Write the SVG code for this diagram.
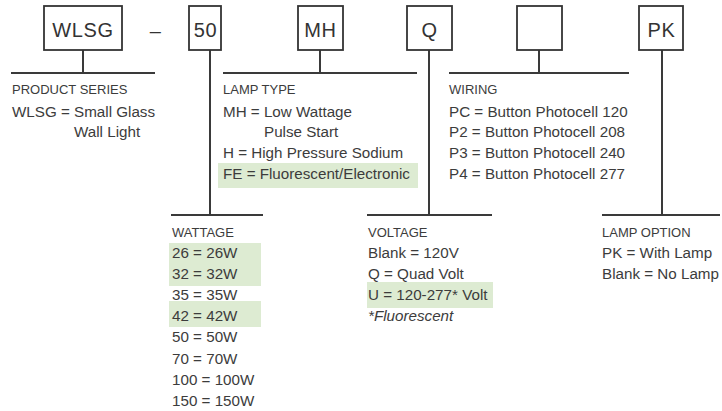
<svg xmlns="http://www.w3.org/2000/svg" width="722" height="411" viewBox="0 0 722 411">
<style>
.box{fill:#fff;stroke:#333;stroke-width:1.8}
.ln{stroke:#3a3a3a;stroke-width:2;fill:none}
.hl{fill:#ddebd2}
.bt{font-family:"Liberation Sans",Arial,sans-serif;font-size:20px;fill:#333;text-anchor:middle;letter-spacing:0.6px}
.hd{font-family:"Liberation Sans",Arial,sans-serif;font-size:13px;fill:#3c3c3c}
.tx{font-family:"Liberation Sans",Arial,sans-serif;font-size:15.2px;fill:#3c3c3c}
.it{font-style:italic}
</style>
<rect width="722" height="411" fill="#fff"/>
<g id="highlights">
<rect class="hl" x="218" y="163" width="200" height="25"/>
<rect class="hl" x="169" y="243" width="92" height="43"/>
<rect class="hl" x="169" y="301" width="92" height="26"/>
<rect class="hl" x="367" y="282" width="126" height="26"/>
</g>
<g id="connectors">
<path class="ln" d="M83 50V73M11 73H155"/>
<path class="ln" d="M210 50V215M171 215H263"/>
<path class="ln" d="M320 50V73M223 73H417"/>
<path class="ln" d="M429 50V215M367 215H492"/>
<path class="ln" d="M539 50V73M449 73H629"/>
<path class="ln" d="M662 50V215M602 215H720"/>
</g>
<g id="box-wlsg"><rect class="box" x="44" y="6" width="78" height="44"/><text class="bt" x="83" y="36.5">WLSG</text></g>
<g id="dash"><text class="bt" x="155.5" y="37.5">–</text></g>
<g id="box-50"><rect class="box" x="189" y="6" width="32" height="44"/><text class="bt" x="205.5" y="36.5">50</text></g>
<g id="box-mh"><rect class="box" x="298" y="6" width="45" height="44"/><text class="bt" x="320.5" y="36.5">MH</text></g>
<g id="box-q"><rect class="box" x="407" y="6" width="45" height="44"/><text class="bt" x="429.5" y="36.5">Q</text></g>
<g id="box-blank"><rect class="box" x="517" y="6" width="45" height="44"/></g>
<g id="box-pk"><rect class="box" x="639" y="6" width="44" height="44"/><text class="bt" x="661.5" y="36.5">PK</text></g>
<g id="product-series">
<text class="hd" x="12" y="94">PRODUCT SERIES</text>
<text class="tx" x="12" y="116.5">WLSG = Small Glass</text>
<text class="tx" x="74" y="137.3">Wall Light</text>
</g>
<g id="lamp-type">
<text class="hd" x="223" y="94">LAMP TYPE</text>
<text class="tx" x="223" y="116.5">MH = Low Wattage</text>
<text class="tx" x="264" y="137.3">Pulse Start</text>
<text class="tx" x="223" y="158.1">H = High Pressure Sodium</text>
<text class="tx" x="223" y="178.9">FE = Fluorescent/Electronic</text>
</g>
<g id="wiring">
<text class="hd" x="449" y="94">WIRING</text>
<text class="tx" x="449" y="116.5">PC = Button Photocell 120</text>
<text class="tx" x="449" y="137.3">P2 = Button Photocell 208</text>
<text class="tx" x="449" y="158.1">P3 = Button Photocell 240</text>
<text class="tx" x="449" y="178.9">P4 = Button Photocell 277</text>
</g>
<g id="wattage">
<text class="hd" x="172" y="237">WATTAGE</text>
<text class="tx" x="172" y="258">26 = 26W</text>
<text class="tx" x="172" y="279.1">32 = 32W</text>
<text class="tx" x="172" y="300.2">35 = 35W</text>
<text class="tx" x="172" y="321.3">42 = 42W</text>
<text class="tx" x="172" y="342.4">50 = 50W</text>
<text class="tx" x="172" y="363.5">70 = 70W</text>
<text class="tx" x="172" y="384.6">100 = 100W</text>
<text class="tx" x="172" y="405.7">150 = 150W</text>
</g>
<g id="voltage">
<text class="hd" x="368" y="237">VOLTAGE</text>
<text class="tx" x="368" y="258">Blank = 120V</text>
<text class="tx" x="368" y="279.1">Q = Quad Volt</text>
<text class="tx" x="368" y="300.2">U = 120-277* Volt</text>
<text class="tx it" x="368" y="321.3">*Fluorescent</text>
</g>
<g id="lamp-option">
<text class="hd" x="602" y="237">LAMP OPTION</text>
<text class="tx" x="602" y="258">PK = With Lamp</text>
<text class="tx" x="602" y="279.1">Blank = No Lamp</text>
</g>
</svg>
